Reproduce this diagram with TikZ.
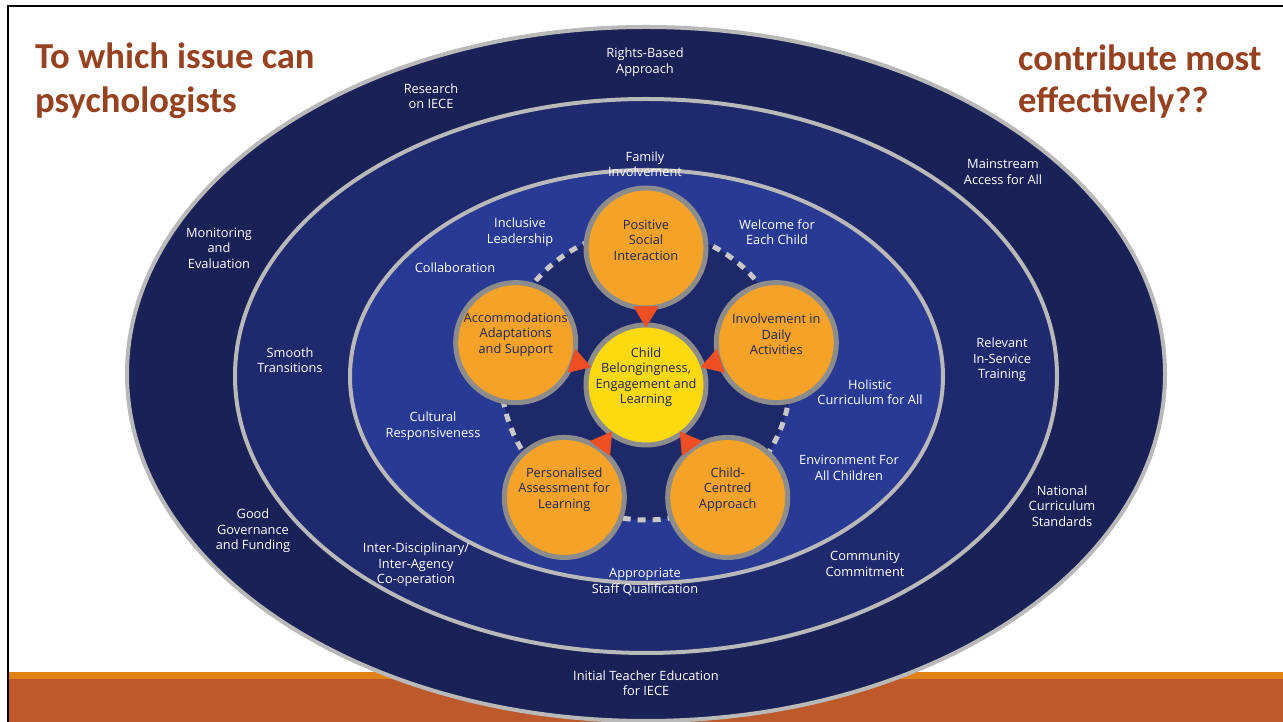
\documentclass[tikz,border=0pt]{standalone}
\usepackage{fontspec}
\setmainfont{Open Sans}
\newfontfamily\headfont{Carlito}
\usetikzlibrary{arrows.meta}
\tikzset{>=stealth}
\definecolor{ringout}{RGB}{26,33,86}
\definecolor{ringmid}{RGB}{31,42,110}
\definecolor{ringin}{RGB}{40,58,148}
\definecolor{hubback}{RGB}{30,41,105}
\definecolor{rim}{RGB}{185,185,185}
\definecolor{dashgrey}{RGB}{200,200,200}
\definecolor{hubrim}{RGB}{140,140,140}
\definecolor{hubfill}{RGB}{245,163,40}
\definecolor{corefill}{RGB}{250,217,15}
\definecolor{tipred}{RGB}{240,78,35}
\definecolor{hubtxt}{RGB}{33,38,84}
\definecolor{headcol}{RGB}{150,66,32}
\definecolor{barorange}{RGB}{225,130,20}
\definecolor{barbrown}{RGB}{189,89,43}

\begin{document}
\begin{tikzpicture}[x=1pt, y=1pt,
	lbl/.style={text=white, align=center, inner sep=0pt, font=\fontsize{12.8}{15.5}\selectfont},
	hub/.style={circle, draw=hubrim, line width=5pt, fill=hubfill, minimum size=120pt, inner sep=0pt},
	hubtext/.style={text=hubtxt, align=center, inner sep=0pt, yshift=8pt, font=\fontsize{12.8}{15.5}\selectfont},
	head/.style={text=headcol, anchor=base west, inner sep=0pt, font=\headfont\bfseries\fontsize{36.6}{44}\selectfont},
	push/.style={draw=tipred, line width=0.3pt, -{Triangle[width=25pt,length=21pt]}, shorten >=-5pt}]

			\fill[white] (0,0) rectangle (1283,722);
			\useasboundingbox (0,0) rectangle (1283,722);
			\fill[barbrown] (8,0) rectangle (1283,43);
			\fill[barorange] (8,43) rectangle (1283,50);
			\draw[line width=2pt] (8,0) -- (8,716) -- (1283,716);

			\node[head] (q1) at (35,653) {To which issue can};
			\node[head] (q2) at (35,609) {psychologists};
			\node[head] (q3) at (1018,651) {contribute most};
			\node[head] (q4) at (1018,609) {effectively??};

			\draw[rim, line width=4pt, fill=ringout] (646,348) ellipse [x radius=519, y radius=347];
			\draw[rim, line width=4pt, fill=ringmid] (646,346) ellipse [x radius=411, y radius=277];
			\draw[rim, line width=4pt, fill=ringin] (646.5,345.5) ellipse [x radius=296.5, y radius=206.5];
			\draw[dashgrey, line width=5pt, dash pattern=on 8pt off 7pt, fill=hubback] (646,347) circle [radius=145];

			\node[lbl] (rights) at (645,660) {Rights-Based\\Approach};
			\node[lbl] (research) at (431,626) {Research\\on IECE};
			\node[lbl] (monitor) at (219,474) {Monitoring\\and\\Evaluation};
			\node[lbl] (mainstream) at (1003,550) {Mainstream\\Access for All};
			\node[lbl] (inservice) at (1002,362) {Relevant\\In-Service\\Training};
			\node[lbl] (national) at (1062,216) {National\\Curriculum\\Standards};
			\node[lbl] (governance) at (253,191) {Good\\Governance\\and Funding};
			\node[lbl] (teacher) at (646,39) {Initial Teacher Education\\for IECE};

			\node[lbl] (family) at (645,558) {Family\\Involvement};
			\node[lbl] (smooth) at (290,362) {Smooth\\Transitions};
			\node[lbl] (interagency) at (416,157) {Inter-Disciplinary/\\Inter-Agency\\Co-operation};
			\node[lbl] (staff) at (645,140) {Appropriate\\Staff Qualification};
			\node[lbl] (community) at (865,158) {Community\\Commitment};

			\node[lbl] (inclusive) at (520,490) {Inclusive\\Leadership};
			\node[lbl] (collab) at (455,454) {Collaboration};
			\node[lbl] (welcome) at (777,490) {Welcome for\\Each Child};
			\node[lbl] (holistic) at (870,330) {Holistic\\Curriculum for All};
			\node[lbl] (cultural) at (433,296) {Cultural\\Responsiveness};
			\node[lbl] (environment) at (849,254) {Environment For\\All Children};

			\begin{scope}[shift={(646,337)}]
			\node[hub, fill=corefill, label={[hubtext]center:{Child\\Belongingness,\\Engagement and\\Learning}}] (core) at (0,0) {};
			\node[hub, label={[hubtext]center:{Positive\\Social\\Interaction}}] (social) at (90:137) {};
			\node[hub, label={[hubtext]center:{Involvement in\\Daily\\Activities}}] (daily) at (18:137) {};
			\node[hub, label={[hubtext]center:{Accommodations\\Adaptations\\and Support}}] (adapt) at (162:137) {};
			\node[hub, label={[hubtext]center:{Personalised\\Assessment for\\Learning}}] (assess) at (234:139) {};
			\node[hub, label={[hubtext]center:{Child-\\Centred\\Approach}}] (centred) at (306:139) {};
			\end{scope}

			\foreach \n in {social,daily,adapt,assess,centred}
				\draw[push] (\n) -- (core);

			\end{tikzpicture}
\end{document}
